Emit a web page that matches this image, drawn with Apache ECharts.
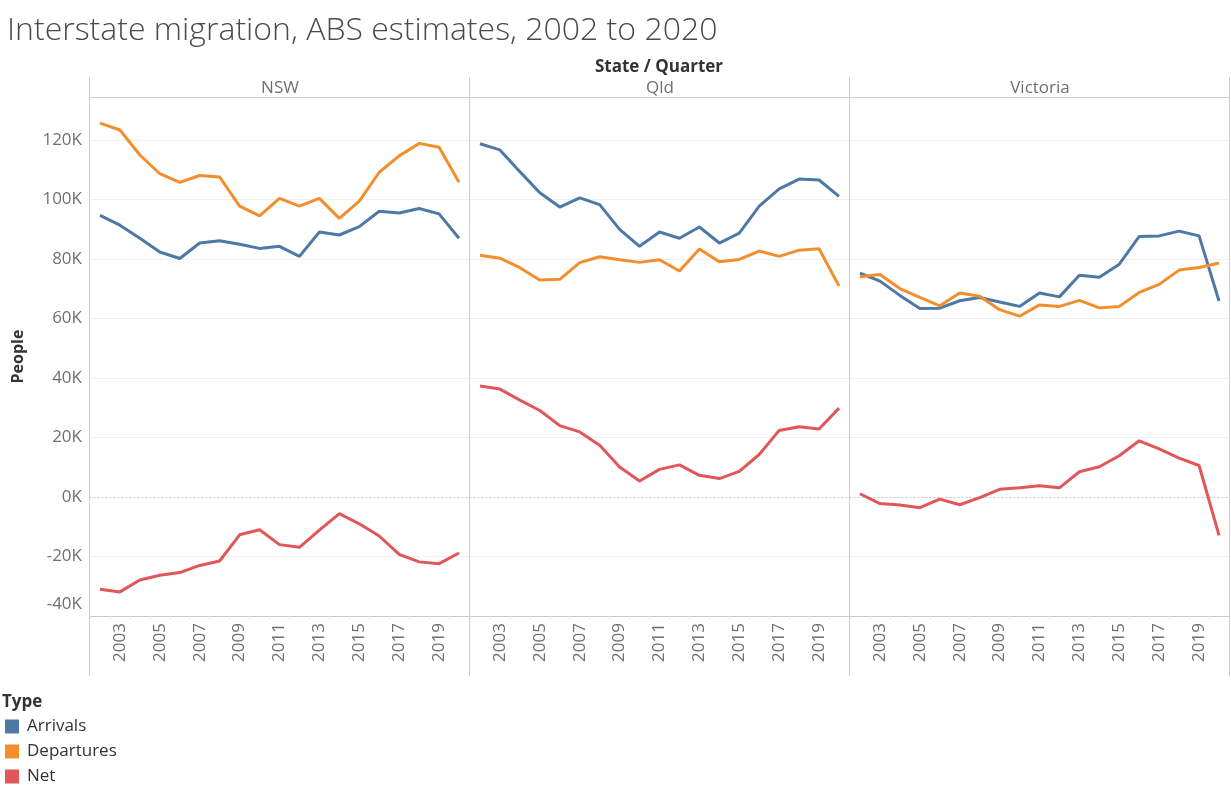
<!DOCTYPE html>
<html>
<head>
<meta charset="utf-8">
<script src="https://cdn.jsdelivr.net/npm/echarts@6/dist/echarts.min.js"></script>
<style>html,body{margin:0;padding:0;background:#fff}#c{width:1231px;height:788px}</style>
</head>
<body>
<div id="c"></div>
<script>
const years = ['2002','2003','2004','2005','2006','2007','2008','2009','2010','2011','2012','2013','2014','2015','2016','2017','2018','2019','2020'];
const states = ['NSW', 'Qld', 'Victoria'];
const typeNames = ['Arrivals', 'Departures', 'Net'];
const yTicks = [-40000, -20000, 0, 20000, 40000, 60000, 80000, 100000, 120000];

const nswArrivals   = [94700, 91400, 87000, 82400, 80200, 85400, 86200, 85000, 83600, 84300, 80900, 89100, 88100, 90900, 96100, 95500, 97000, 95200, 87000];
const nswDepartures = [125700, 123400, 115000, 108700, 105800, 108100, 107600, 97800, 94500, 100400, 97800, 100400, 93700, 99500, 109200, 114700, 118900, 117600, 105800];
const nswNet        = [-31000, -31900, -27900, -26300, -25400, -23000, -21500, -12700, -11000, -16000, -16900, -11100, -5600, -9000, -13100, -19300, -21800, -22400, -18800];

const qldArrivals   = [118800, 116700, 109400, 102300, 97500, 100600, 98300, 90000, 84300, 89100, 87000, 90800, 85400, 88700, 97800, 103600, 106900, 106600, 101100];
const qldDepartures = [81300, 80300, 77100, 73000, 73200, 78800, 80800, 79800, 78900, 79800, 76000, 83400, 79100, 79900, 82700, 80900, 83000, 83500, 70900];
const qldNet        = [37300, 36300, 32600, 29100, 24000, 21900, 17400, 10100, 5400, 9300, 10800, 7300, 6200, 8600, 14300, 22400, 23600, 22900, 29900];

const vicArrivals   = [75300, 72600, 67800, 63400, 63500, 66000, 67100, 65600, 64100, 68600, 67300, 74600, 73900, 78300, 87600, 87800, 89400, 87800, 65900];
const vicDepartures = [74100, 74800, 70100, 67100, 64300, 68600, 67500, 63000, 60800, 64600, 64100, 66100, 63600, 64100, 68800, 71500, 76300, 77200, 78700];
const vicNet        = [1100, -2200, -2700, -3600, -700, -2600, -200, 2600, 3100, 3800, 3100, 8500, 10200, 13900, 18900, 16200, 13100, 10600, -12900];

const stateData = [
  [nswArrivals, nswDepartures, nswNet],
  [qldArrivals, qldDepartures, qldNet],
  [vicArrivals, vicDepartures, vicNet]
];
const colors = ['#4e79a7', '#f28e2b', '#e15759'];

const FONT = '"Open Sans", "Noto Sans", sans-serif';
const LABEL_GRAY = '#707070';
const panelLeft = [90, 470, 850];
const panelW = 379;
const plotTop = 97, plotH = 519;

const grids = [], xAxes = [], yAxes = [], series = [];
for (let i = 0; i < 3; i++) {
  grids.push({ left: panelLeft[i], top: plotTop, width: panelW, height: plotH, containLabel: false });
  xAxes.push({
    type: 'category', gridIndex: i, data: years, boundaryGap: true,
    axisLine: { show: true, onZero: false, lineStyle: { color: '#c8c8c8', width: 1 } },
    axisTick: { show: true, interval: 0, length: 3, lineStyle: { color: '#e2e2e2' } },
    axisLabel: {
      interval: (idx) => idx % 2 === 1,
      rotate: 90, color: LABEL_GRAY, fontFamily: FONT, fontSize: 17, margin: 7
    },
    splitLine: { show: false }
  });
  yAxes.push({
    type: 'value', gridIndex: i, min: -40000, max: 134500, interval: 20000,
    name: i === 0 ? 'People' : '', nameLocation: 'middle', nameGap: 64,
    nameTextStyle: { color: '#333', fontFamily: FONT, fontSize: 16, fontWeight: 'bold' },
    axisLine: { show: false }, axisTick: { show: false },
    axisLabel: {
      show: i === 0, color: LABEL_GRAY, fontFamily: FONT, fontSize: 17, margin: 8,
      showMaxLabel: false,
      formatter: (v) => {
        if (yTicks.indexOf(v) < 0) return '';
        const s = (v / 1000) + 'K';
        return v === yTicks[0] ? '{up|' + s + '}' : s;
      },
      rich: { up: { color: LABEL_GRAY, fontFamily: FONT, fontSize: 17, padding: [0, 0, 24, 0] } }
    },
    splitLine: { show: true, lineStyle: { color: '#efefef', width: 1 } }
  });
  for (let t = 0; t < 3; t++) {
    const s = {
      name: typeNames[t], type: 'line', xAxisIndex: i, yAxisIndex: i,
      data: stateData[i][t], symbol: 'none', smooth: false,
      color: colors[t], lineStyle: { color: colors[t], width: 3 },
      z: 3 + t
    };
    if (t === 0) {
      s.markLine = {
        silent: true, symbol: 'none', label: { show: false },
        lineStyle: { color: '#b4b4b4', type: [1, 3], width: 1 },
        data: [{ yAxis: 0 }]
      };
    }
    series.push(s);
  }
}

const graphics = [];
[89.5, 469.5, 849.5, 1229.5].forEach(x => {
  graphics.push({ type: 'line', shape: { x1: x, y1: 77, x2: x, y2: 676 }, style: { stroke: '#cfcfcf', lineWidth: 1 }, z: 1 });
});
graphics.push({ type: 'line', shape: { x1: 90, y1: 97.5, x2: 1230, y2: 97.5 }, style: { stroke: '#cfcfcf', lineWidth: 1 }, z: 1 });
const headerX = [280, 660, 1040];
states.forEach((s, i) => {
  graphics.push({ type: 'text', x: headerX[i], y: 88, style: { text: s, fill: LABEL_GRAY, font: '17px ' + FONT, textAlign: 'center', textVerticalAlign: 'middle' } });
});
graphics.push({ type: 'text', x: 659, y: 67, style: { text: 'State / Quarter', fill: '#333', font: 'bold 17px ' + FONT, textAlign: 'center', textVerticalAlign: 'middle' } });
graphics.push({ type: 'text', x: 2, y: 702, style: { text: 'Type', fill: '#333', font: 'bold 17px ' + FONT, textAlign: 'left', textVerticalAlign: 'middle' } });

const option = {
  animation: false,
  backgroundColor: '#fff',
  title: {
    text: 'Interstate migration, ABS estimates, 2002 to 2020',
    left: 2, top: 10,
    textStyle: { color: '#4a4a4a', fontFamily: FONT, fontSize: 32, fontWeight: 300 }
  },
  legend: {
    data: typeNames, orient: 'vertical', left: 5, top: 718, padding: 0,
    icon: 'rect', itemWidth: 14, itemHeight: 14, itemGap: 8,
    textStyle: { color: '#333', fontFamily: FONT, fontSize: 17, padding: [0, 0, 0, 3] },
    selectedMode: false
  },
  grid: grids, xAxis: xAxes, yAxis: yAxes, series: series,
  graphic: graphics
};

const chart = echarts.init(document.getElementById('c'), null, { renderer: 'canvas' });
chart.setOption(option);
</script>
</body>
</html>
